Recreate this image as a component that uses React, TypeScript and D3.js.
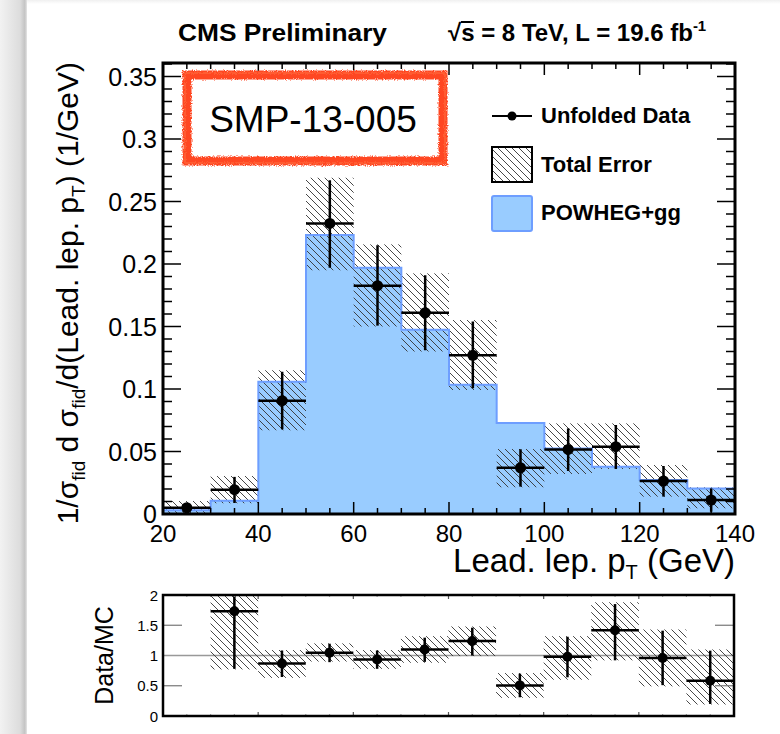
import React from 'react';
import * as d3 from 'd3';

// bins in GeV
const binEdges = [20, 30, 40, 50, 60, 70, 80, 90, 100, 110, 120, 130, 140];
const mcValues = [0.003, 0.0107, 0.1059, 0.2232, 0.197, 0.1475, 0.1035, 0.0728, 0.0525, 0.0379, 0.0272, 0.0205];
const dataValues = [0.005, 0.0195, 0.0907, 0.2325, 0.1827, 0.161, 0.127, 0.037, 0.0517, 0.0539, 0.0264, 0.0112];
const dataErrLo = [0.002, 0.0088, 0.0677, 0.197, 0.1507, 0.131, 0.1006, 0.0219, 0.0344, 0.036, 0.0139, 0.0018];
const dataErrHi = [0.008, 0.0297, 0.1138, 0.267, 0.215, 0.191, 0.154, 0.0518, 0.0685, 0.0712, 0.0384, 0.0205];
const totErrLo = [0.0005, 0.0086, 0.067, 0.195, 0.15, 0.13, 0.0992, 0.0214, 0.032, 0.036, 0.0139, 0.0046];
const totErrHi = [0.0104, 0.0304, 0.115, 0.269, 0.2157, 0.1925, 0.1552, 0.052, 0.0725, 0.0725, 0.0392, 0.0214];

// Data/MC, first bin not shown
const ratioValues = [null, 1.73, 0.867, 1.045, 0.933, 1.1, 1.24, 0.506, 0.978, 1.417, 0.96, 0.583];
const ratioErrLo = [null, 0.78, 0.645, 0.89, 0.78, 0.895, 1.0, 0.31, 0.64, 0.92, 0.51, 0.2];
const ratioErrHi = [null, 2.3, 1.083, 1.195, 1.083, 1.295, 1.46, 0.7, 1.31, 1.85, 1.41, 1.08];
const ratioTotLo = [null, 0.77, 0.63, 0.9, 0.78, 0.88, 0.99, 0.3, 0.6, 0.92, 0.49, 0.19];
const ratioTotHi = [null, 2.3, 1.09, 1.2, 1.09, 1.32, 1.48, 0.71, 1.32, 1.88, 1.43, 1.1];

const yTicks = [0, 0.05, 0.1, 0.15, 0.2, 0.25, 0.3, 0.35];
const xTickLabels = [20, 40, 60, 80, 100, 120, 140];
const ratioTicks = [0, 0.5, 1, 1.5, 2];

const FONT = "'Liberation Sans', Arial, Helvetica, sans-serif";
const BLUE = '#99ccff';
const BLUE_LINE = '#6e9eff';
const RED = '#ff4720';

const W = 780;
const H = 734;
const main = { left: 163, right: 735, top: 63, bottom: 514 };
const rat = { left: 163, right: 734, top: 595, bottom: 716 };

const App = () => {
  const x = d3.scaleLinear().domain([20, 140]).range([main.left, main.right]);
  const y = d3.scaleLinear().domain([0, 0.3608]).range([main.bottom, main.top]);
  const xr = d3.scaleLinear().domain([20, 140]).range([rat.left, rat.right]);
  const yr = d3.scaleLinear().domain([0, 2]).range([rat.bottom, rat.top]);

  const bins = mcValues.map((v, i) => ({
    lo: binEdges[i],
    hi: binEdges[i + 1],
    mid: (binEdges[i] + binEdges[i + 1]) / 2,
    mc: v,
    data: dataValues[i],
    eLo: dataErrLo[i],
    eHi: dataErrHi[i],
    tLo: totErrLo[i],
    tHi: totErrHi[i],
    r: ratioValues[i],
    rLo: ratioErrLo[i],
    rHi: ratioErrHi[i],
    rtLo: ratioTotLo[i],
    rtHi: ratioTotHi[i],
  }));
  const ratioBins = bins.filter(b => b.r !== null);

  // step histogram outline
  const stepPts: [number, number][] = [[20, 0]];
  bins.forEach(b => {
    stepPts.push([b.lo, b.mc]);
    stepPts.push([b.hi, b.mc]);
  });
  stepPts.push([140, 0]);
  const stepLine = d3.line<[number, number]>().x(d => x(d[0])).y(d => y(d[1]));

  const minorY = d3.range(0, 0.3601, 0.01);
  const minorX = d3.range(20, 140.01, 5);

  return (
    <svg width={W} height={H} style={{ position: 'absolute', left: 0, top: 0 }} fontFamily={FONT}>
      <defs>
        <pattern id="hatch" patternUnits="userSpaceOnUse" width="7" height="7">
          <path d="M-1,-1 L8,8 M-1,6 L1,8 M6,-1 L8,1" stroke="#333" strokeWidth="0.9" />
        </pattern>
        <linearGradient id="shadowL" x1="0" x2="1" y1="0" y2="0">
          <stop offset="0" stopColor="#f2f2f2" />
          <stop offset="0.75" stopColor="#dcdcdc" />
          <stop offset="0.92" stopColor="#c4c4c4" />
          <stop offset="1" stopColor="#e6e6e6" />
        </linearGradient>
        <linearGradient id="shadowT" x1="0" x2="0" y1="0" y2="1">
          <stop offset="0" stopColor="#f0f0f0" />
          <stop offset="1" stopColor="#ffffff" />
        </linearGradient>
        <filter id="rough" x="-5%" y="-10%" width="110%" height="120%">
          <feTurbulence type="fractalNoise" baseFrequency="0.9" numOctaves="2" seed="3" />
          <feDisplacementMap in="SourceGraphic" scale="4" />
        </filter>
        <clipPath id="ratClip">
          <rect x={rat.left} y={rat.top} width={rat.right - rat.left} height={rat.bottom - rat.top} />
        </clipPath>
      </defs>

      <rect x={0} y={0} width={W} height={H} fill="#fff" />
      <rect x={27} y={0} width={W - 27} height={4} fill="url(#shadowT)" />
      <rect x={0} y={0} width={27} height={H} fill="url(#shadowL)" />

      {/* header */}
      <text x={178} y={41} fontSize={24} fontWeight="bold" textLength={209} lengthAdjust="spacingAndGlyphs">
        CMS Preliminary
      </text>
      <text x={448} y={41} fontSize={24} fontWeight="bold">
        √s = 8 TeV, L = 19.6 fb<tspan dy={-10} fontSize={15}>-1</tspan>
      </text>
      <line x1={461} x2={474} y1={22} y2={22} stroke="#000" strokeWidth={2} />

      {/* MC histogram */}
      <path d={stepLine(stepPts) || ''} fill={BLUE} stroke="none" />
      {/* total error hatch */}
      {bins.map((b, i) => (
        <rect key={'h' + i} x={x(b.lo)} width={x(b.hi) - x(b.lo)} y={y(b.tHi)} height={y(b.tLo) - y(b.tHi)} fill="url(#hatch)" />
      ))}
      <path d={stepLine(stepPts) || ''} fill="none" stroke={BLUE_LINE} strokeWidth={2} />

      {/* data */}
      {bins.map((b, i) => (
        <g key={'d' + i} stroke="#000" strokeWidth={2.5}>
          <line x1={x(b.lo)} x2={x(b.hi)} y1={y(b.data)} y2={y(b.data)} />
          <line x1={x(b.mid)} x2={x(b.mid)} y1={y(b.eHi)} y2={y(b.eLo)} />
          <circle cx={x(b.mid)} cy={y(b.data)} r={5.5} fill="#000" stroke="none" />
        </g>
      ))}

      {/* main axes ticks */}
      <g stroke="#000">
        {minorY.map((t, i) => {
          const len = i % 5 === 0 ? 18 : 9;
          return (
            <g key={'yt' + i} strokeWidth={1.5}>
              <line x1={main.left} x2={main.left + len} y1={y(t)} y2={y(t)} />
              <line x1={main.right - len} x2={main.right} y1={y(t)} y2={y(t)} />
            </g>
          );
        })}
        {minorX.map((t, i) => {
          const len = i % 4 === 0 ? 12 : 6;
          return (
            <g key={'xt' + i} strokeWidth={1.5}>
              <line x1={x(t)} x2={x(t)} y1={main.bottom} y2={main.bottom - len} />
              <line x1={x(t)} x2={x(t)} y1={main.top} y2={main.top + len} />
            </g>
          );
        })}
      </g>
      <rect x={main.left} y={main.top} width={main.right - main.left} height={main.bottom - main.top} fill="none" stroke="#000" strokeWidth={3} />

      {/* tick labels */}
      {yTicks.map(t => (
        <text key={'yl' + t} x={main.left - 6} y={y(t) + 9} fontSize={25} textAnchor="end">
          {String(t)}
        </text>
      ))}
      {xTickLabels.map(t => (
        <text key={'xl' + t} x={x(t)} y={542} fontSize={24} textAnchor="middle">
          {t}
        </text>
      ))}

      {/* axis titles */}
      <text x={735} y={572} fontSize={33} textAnchor="end">
        Lead. lep. p<tspan dy={7} fontSize={20}>T</tspan>
        <tspan dy={-7}> (GeV)</tspan>
      </text>
      <text transform="translate(78,62) rotate(-90)" fontSize={30} textAnchor="end">
        1/σ<tspan dy={7} fontSize={19}>fid</tspan>
        <tspan dy={-7}> d σ</tspan>
        <tspan dy={7} fontSize={19}>fid</tspan>
        <tspan dy={-7}>/d(Lead. lep. p</tspan>
        <tspan dy={7} fontSize={19}>T</tspan>
        <tspan dy={-7}>) (1/GeV)</tspan>
      </text>

      {/* SMP box */}
      <g filter="url(#rough)">
        <rect x={187} y={75} width={256} height={86} fill="none" stroke={RED} strokeWidth={9} />
        <rect x={185} y={73} width={260} height={90} fill="none" stroke="#ff6a40" strokeWidth={2} opacity={0.6} />
      </g>
      <text x={313} y={132} fontSize={37} textAnchor="middle">SMP-13-005</text>

      {/* legend */}
      <g>
        <line x1={492} x2={532} y1={116} y2={116} stroke="#000" strokeWidth={2} />
        <circle cx={512} cy={116} r={4.5} fill="#000" />
        <text x={541} y={123} fontSize={22} fontWeight="bold">Unfolded Data</text>
        <rect x={492} y={147} width={40} height={35} fill="url(#hatch)" stroke="#000" strokeWidth={2} />
        <text x={541} y={172} fontSize={22} fontWeight="bold">Total Error</text>
        <rect x={492} y={196} width={40} height={35} rx={2} fill={BLUE} stroke={BLUE_LINE} strokeWidth={2} />
        <text x={541} y={220} fontSize={22} fontWeight="bold">POWHEG+gg</text>
      </g>

      {/* ratio panel */}
      <line x1={rat.left} x2={rat.right} y1={yr(1)} y2={yr(1)} stroke="#999" strokeWidth={1.5} />
      <g clipPath="url(#ratClip)">
        {ratioBins.map((b, i) => (
          <rect key={'rh' + i} x={xr(b.lo)} width={xr(b.hi) - xr(b.lo)} y={yr(b.rtHi as number)} height={yr(b.rtLo as number) - yr(b.rtHi as number)} fill="url(#hatch)" />
        ))}
        {ratioBins.map((b, i) => (
          <g key={'rd' + i} stroke="#000" strokeWidth={2.5}>
            <line x1={xr(b.lo)} x2={xr(b.hi)} y1={yr(b.r as number)} y2={yr(b.r as number)} />
            <line x1={xr(b.mid)} x2={xr(b.mid)} y1={yr(b.rHi as number)} y2={yr(b.rLo as number)} />
            <circle cx={xr(b.mid)} cy={yr(b.r as number)} r={5} fill="#000" stroke="none" />
          </g>
        ))}
      </g>
      <g stroke="#777" strokeWidth={1.2}>
        {[0.5, 1.5].map(t => (
          <g key={'rt' + t}>
            <line x1={rat.left} x2={rat.left + 19} y1={yr(t)} y2={yr(t)} />
            <line x1={rat.right - 19} x2={rat.right} y1={yr(t)} y2={yr(t)} />
          </g>
        ))}
        {minorX.map((t, i) => {
          const len = i % 4 === 0 ? 4 : 2;
          return (
            <g key={'rxt' + i} stroke={i % 4 === 0 ? '#555' : '#aaa'}>
              <line x1={xr(t)} x2={xr(t)} y1={rat.bottom} y2={rat.bottom - len} />
              <line x1={xr(t)} x2={xr(t)} y1={rat.top} y2={rat.top + len} />
            </g>
          );
        })}
      </g>
      <rect x={rat.left} y={rat.top} width={rat.right - rat.left} height={rat.bottom - rat.top} fill="none" stroke="#000" strokeWidth={2.5} />
      {ratioTicks.map(t => (
        <text key={'rl' + t} x={rat.left - 5} y={yr(t) + 5.5} fontSize={15} textAnchor="end">
          {String(t)}
        </text>
      ))}
      <text transform={`translate(113,${(rat.top + rat.bottom) / 2}) rotate(-90)`} fontSize={25} textAnchor="middle">
        Data/MC
      </text>
    </svg>
  );
};

export default App;
